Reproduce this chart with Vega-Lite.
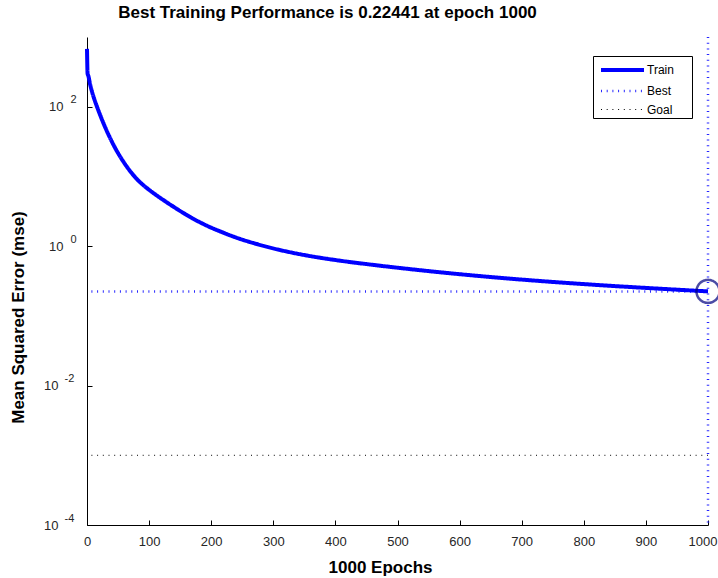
{
  "$schema": "https://vega.github.io/schema/vega-lite/v6.json",
  "width": 621,
  "height": 488,
  "autosize": {"type": "none"},
  "padding": {"left": 87, "top": 37, "right": 10, "bottom": 53},
  "background": "white",
  "config": {
    "view": {"stroke": null},
    "font": "Liberation Sans",
    "axis": {
      "grid": false,
      "domainColor": "#000000",
      "domainWidth": 1,
      "tickColor": "#000000",
      "tickWidth": 1,
      "tickSize": -5,
      "labelFont": "Liberation Sans",
      "labelFontSize": 13,
      "labelColor": "#262626",
      "titleFont": "Liberation Sans",
      "titleFontSize": 17,
      "titleFontWeight": "bold",
      "titleColor": "#000000"
    }
  },
  "title": {
    "text": "Best Training Performance is 0.22441 at epoch 1000",
    "font": "Liberation Sans",
    "fontSize": 17,
    "fontWeight": "bold",
    "color": "#000000",
    "anchor": "middle",
    "dx": -70,
    "offset": 14
  },
  "datasets": {
    "train": [
      {"epoch": 0, "mse": 676.1, "series": "Train"},
      {"epoch": 1, "mse": 295.1, "series": "Train"},
      {"epoch": 2, "mse": 279.9, "series": "Train"},
      {"epoch": 5, "mse": 209.4, "series": "Train"},
      {"epoch": 8, "mse": 165.6, "series": "Train"},
      {"epoch": 12, "mse": 126.8, "series": "Train"},
      {"epoch": 16, "mse": 100.7, "series": "Train"},
      {"epoch": 22, "mse": 72.8, "series": "Train"},
      {"epoch": 30, "mse": 49.0, "series": "Train"},
      {"epoch": 40, "mse": 31.6, "series": "Train"},
      {"epoch": 50, "mse": 21.6, "series": "Train"},
      {"epoch": 60, "mse": 15.6, "series": "Train"},
      {"epoch": 70, "mse": 11.75, "series": "Train"},
      {"epoch": 80, "mse": 9.23, "series": "Train"},
      {"epoch": 90, "mse": 7.59, "series": "Train"},
      {"epoch": 100, "mse": 6.43, "series": "Train"},
      {"epoch": 110, "mse": 5.52, "series": "Train"},
      {"epoch": 125, "mse": 4.46, "series": "Train"},
      {"epoch": 140, "mse": 3.64, "series": "Train"},
      {"epoch": 155, "mse": 3.0, "series": "Train"},
      {"epoch": 170, "mse": 2.5, "series": "Train"},
      {"epoch": 185, "mse": 2.13, "series": "Train"},
      {"epoch": 200, "mse": 1.84, "series": "Train"},
      {"epoch": 215, "mse": 1.62, "series": "Train"},
      {"epoch": 235, "mse": 1.38, "series": "Train"},
      {"epoch": 250, "mse": 1.24, "series": "Train"},
      {"epoch": 268, "mse": 1.108, "series": "Train"},
      {"epoch": 300, "mse": 0.928, "series": "Train"},
      {"epoch": 330, "mse": 0.808, "series": "Train"},
      {"epoch": 360, "mse": 0.719, "series": "Train"},
      {"epoch": 400, "mse": 0.632, "series": "Train"},
      {"epoch": 450, "mse": 0.553, "series": "Train"},
      {"epoch": 500, "mse": 0.4905, "series": "Train"},
      {"epoch": 550, "mse": 0.4385, "series": "Train"},
      {"epoch": 600, "mse": 0.396, "series": "Train"},
      {"epoch": 650, "mse": 0.3606, "series": "Train"},
      {"epoch": 700, "mse": 0.3312, "series": "Train"},
      {"epoch": 750, "mse": 0.3066, "series": "Train"},
      {"epoch": 800, "mse": 0.2855, "series": "Train"},
      {"epoch": 850, "mse": 0.2674, "series": "Train"},
      {"epoch": 900, "mse": 0.2516, "series": "Train"},
      {"epoch": 950, "mse": 0.2375, "series": "Train"},
      {"epoch": 1000, "mse": 0.22441, "series": "Train"}
    ],
    "levels": [
      {"series": "Best", "mse": 0.22441},
      {"series": "Goal", "mse": 0.001}
    ],
    "bestEpoch": [
      {"series": "Best", "epoch": 1000}
    ],
    "bestPoint": [
      {"epoch": 1000, "mse": 0.22441}
    ]
  },
  "encoding": {
    "x": {
      "field": "epoch",
      "type": "quantitative",
      "scale": {"domain": [0, 1000], "nice": false, "zero": false},
      "axis": {
        "title": "1000 Epochs",
        "values": [0, 100, 200, 300, 400, 500, 600, 700, 800, 900, 1000],
        "format": "d",
        "labelPadding": 15,
        "labelFlush": false,
        "labelAlign": {"condition": {"test": "datum.value >= 1000", "value": "right"}, "value": "center"},
        "labelOffset": {"condition": {"test": "datum.value >= 1000", "value": 9}, "value": 0},
        "titleX": 293,
        "titleY": 42,
        "titleBaseline": "middle"
      }
    },
    "color": {
      "field": "series",
      "type": "nominal",
      "scale": {"domain": ["Train", "Best", "Goal"], "range": ["#0000ff", "#2828ff", "#000000"]},
      "legend": {
        "title": " ",
        "titleOrient": "right",
        "titlePadding": 16,
        "titleFontSize": 12,
        "orient": "none",
        "legendX": 506,
        "legendY": 19,
        "strokeColor": "#000000",
        "fillColor": "#ffffff",
        "padding": 2,
        "rowPadding": 1.5,
        "symbolType": "M-0.6,0H3.7",
        "symbolSize": 400,
        "labelFontSize": 12,
        "labelFont": "Liberation Sans",
        "labelColor": "#000000",
        "labelOffset": 28
      }
    },
    "strokeDash": {
      "field": "series",
      "type": "nominal",
      "scale": {"domain": ["Train", "Best", "Goal"], "range": [[1, 0], [1, 4.7], [1, 4.7]]},
      "legend": null
    },
    "strokeWidth": {
      "field": "series",
      "type": "nominal",
      "scale": {"domain": ["Train", "Best", "Goal"], "range": [4, 1, 1]},
      "legend": null
    }
  },
  "resolve": {"axis": {"y": "independent"}},
  "layer": [
    {
      "data": {"name": "levels"},
      "mark": {"type": "rule"},
      "encoding": {
        "x": null,
        "y": {
          "field": "mse",
          "type": "quantitative",
          "scale": {"type": "log", "domain": [0.0001, 1000], "nice": false},
          "axis": {
            "orient": "left",
            "title": null,
            "values": [0.0001, 0.01, 1, 100],
            "labelExpr": "'' + round(log(datum.value) / LN10)",
            "domain": false,
            "ticks": false,
            "labelAlign": "left",
            "labelBaseline": "middle",
            "labelFontSize": 11,
            "labelOffset": -7,
            "labelPadding": {"condition": {"test": "datum.value < 1", "value": 23}, "value": 17}
          }
        }
      }
    },
    {
      "data": {"name": "bestEpoch"},
      "mark": {"type": "rule"},
      "encoding": {}
    },
    {
      "data": {"name": "train"},
      "mark": {"type": "line", "interpolate": "monotone", "strokeCap": "butt", "strokeJoin": "round"},
      "encoding": {
        "y": {
          "field": "mse",
          "type": "quantitative",
          "scale": {"type": "log", "domain": [0.0001, 1000], "nice": false},
          "axis": {
            "orient": "left",
            "title": "Mean Squared Error  (mse)",
            "titleX": -69,
            "titleY": 280,
            "titleAlign": "center",
            "titleBaseline": "middle",
            "values": [0.0001, 0.01, 1, 100],
            "labelExpr": "'10'",
            "labelAlign": "right",
            "labelBaseline": "middle",
            "labelPadding": {"condition": {"test": "datum.value < 1", "value": 34}, "value": 29}
          }
        }
      }
    },
    {
      "data": {"name": "bestPoint"},
      "mark": {"type": "point", "shape": "circle", "filled": false, "size": 530, "clip": false},
      "encoding": {
        "y": {"field": "mse", "type": "quantitative", "scale": {"type": "log", "domain": [0.0001, 1000], "nice": false}, "axis": null},
        "color": {"value": "#000080"},
        "strokeDash": {"value": [1, 0]},
        "strokeWidth": {"value": 2.5}
      }
    }
  ]
}
